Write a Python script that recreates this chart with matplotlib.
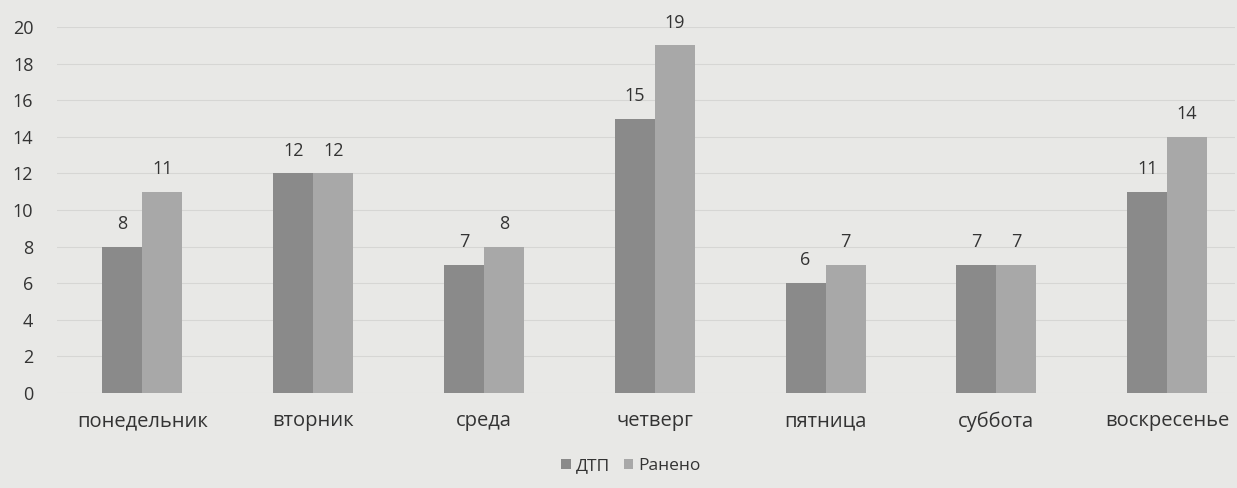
import matplotlib
matplotlib.use("Agg")
import matplotlib.pyplot as plt
import numpy as np

categories = ["понедельник", "вторник", "среда", "четверг", "пятница", "суббота", "воскресенье"]
dtp = [8, 12, 7, 15, 6, 7, 11]
raneno = [11, 12, 8, 19, 7, 7, 14]
series_names = ["ДТП", "Ранено"]

plt.rcParams['font.family'] = ['Open Sans', 'DejaVu Sans']
bg = '#e8e8e6'
fig = plt.figure(figsize=(12.37, 4.88), dpi=100, facecolor=bg)
W, H = 1237, 488
left, right = 57, 1235
ybot, ytop = 393, 27
ax = fig.add_axes([left / W, (H - ybot) / H, (right - left) / W, (ybot - ytop) / H])
ax.set_facecolor(bg)

x = np.arange(len(categories))
bw = 40 / 170.8
b1 = ax.bar(x - bw / 2, dtp, bw, color='#8a8a8a', label=series_names[0], zorder=3)
b2 = ax.bar(x + bw / 2, raneno, bw, color='#a8a8a8', label=series_names[1], zorder=3)

for bars, vals in ((b1, dtp), (b2, raneno)):
    for r, v in zip(bars, vals):
        ax.text(r.get_x() + r.get_width() / 2, v + 0.75, str(v), ha='center', va='bottom',
                fontsize=13, color='#333333')

ax.set_xlim(-0.5, -0.5 + (right - left) / 170.8)
ax.set_ylim(0, 20)
ax.set_yticks(range(0, 21, 2))
ax.set_xticks(x)
ax.set_xticklabels(categories, fontsize=14.5)
ax.tick_params(axis='both', length=0, labelcolor='#333333')
ax.tick_params(axis='y', labelsize=13, pad=17)
ax.tick_params(axis='x', pad=13)
ax.grid(axis='y', color='#d6d6d4', linewidth=0.8, zorder=0)
for s in ax.spines.values():
    s.set_visible(False)

leg = fig.legend(handles=[b1, b2], loc='center', bbox_to_anchor=(631 / W, (H - 466) / H), ncol=2,
                 frameon=False, fontsize=12.5, handlelength=0.55, handleheight=0.55,
                 handletextpad=0.3, columnspacing=0.8, labelcolor='#333333')

fig.savefig('out.png', dpi=100, facecolor=bg)
